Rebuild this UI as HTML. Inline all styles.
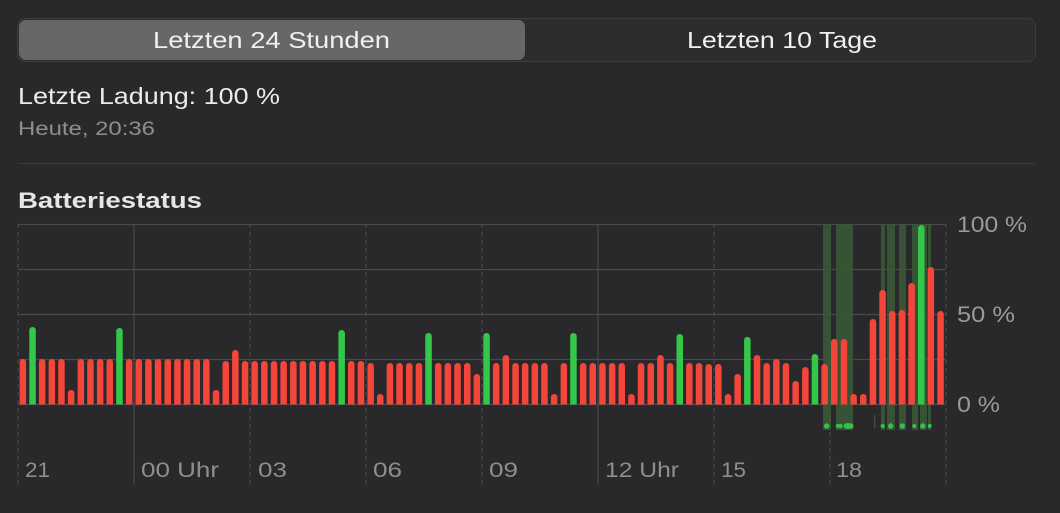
<!DOCTYPE html>
<html><head><meta charset="utf-8"><style>
body{margin:0;width:1060px;height:513px;background:#29292b;overflow:hidden;font-family:"Liberation Sans",sans-serif;}
</style></head><body>
<svg width="1060" height="513" xmlns="http://www.w3.org/2000/svg" style="position:absolute;left:0;top:0">
<rect x="17.5" y="18.5" width="1018" height="43" rx="8" fill="#2d2d2f" stroke="#3d3d40"/>
<rect x="19" y="20" width="506" height="40" rx="7" fill="#676769"/>
<text x="153" y="48" font-size="23" fill="#f0f0f0" textLength="237" lengthAdjust="spacingAndGlyphs">Letzten 24 Stunden</text>
<text x="687" y="48" font-size="23" fill="#f0f0f0" textLength="190" lengthAdjust="spacingAndGlyphs">Letzten 10 Tage</text>
<text x="18" y="104" font-size="23" fill="#ececec" textLength="262" lengthAdjust="spacingAndGlyphs">Letzte Ladung: 100 %</text>
<text x="18" y="135" font-size="19" fill="#8f8f92" textLength="137" lengthAdjust="spacingAndGlyphs">Heute, 20:36</text>
<line x1="18" y1="163.5" x2="1035" y2="163.5" stroke="#3a3a3c"/>
<text x="18" y="208" font-size="22" font-weight="bold" fill="#e6e6e6" textLength="184" lengthAdjust="spacingAndGlyphs">Batteriestatus</text>
<g stroke="#4a4a4d" stroke-width="1.2">
<line x1="18" y1="224.5" x2="946" y2="224.5"/><line x1="18" y1="269.5" x2="946" y2="269.5"/>
<line x1="18" y1="314.5" x2="946" y2="314.5"/><line x1="18" y1="359.5" x2="946" y2="359.5"/>
<line x1="18" y1="404.5" x2="946" y2="404.5"/>
<line x1="134" y1="224" x2="134" y2="484"/><line x1="598" y1="224" x2="598" y2="484"/>
</g>
<g stroke="#4a4a4d" stroke-width="1.2" stroke-dasharray="4,4">
<line x1="18" y1="224" x2="18" y2="484"/><line x1="250" y1="224" x2="250" y2="484"/>
<line x1="366" y1="224" x2="366" y2="484"/><line x1="482" y1="224" x2="482" y2="484"/>
<line x1="714" y1="224" x2="714" y2="484"/><line x1="830" y1="224" x2="830" y2="484"/>
<line x1="946" y1="224" x2="946" y2="484"/>
</g>
<g fill="#3a5a36" opacity="0.85">
<rect x="823" y="224" width="8" height="206"/><rect x="836" y="224" width="17" height="206"/>
<rect x="881" y="224" width="4" height="206"/><rect x="887" y="224" width="8" height="206"/>
<rect x="899" y="224" width="7" height="206"/><rect x="912" y="224" width="6" height="206"/>
<rect x="920" y="224" width="7" height="206"/><rect x="928" y="224" width="3" height="206"/>
</g>
<line x1="874.7" y1="415" x2="874.7" y2="428" stroke="#555" stroke-width="1"/>
<g fill="#34c14a">
<circle cx="826.7" cy="426" r="2.7"/><circle cx="837.7" cy="426" r="2"/><circle cx="840.5" cy="426" r="2.2"/>
<rect x="843.5" y="423.3" width="10" height="5.4" rx="2.7"/>
<circle cx="882.7" cy="426" r="2.2"/><circle cx="890.7" cy="426" r="2.7"/><circle cx="902.3" cy="426" r="2.7"/>
<circle cx="914.3" cy="426" r="2"/><circle cx="922.7" cy="426" r="2.7"/><circle cx="929.7" cy="426" r="2"/>
</g>
<defs><clipPath id="c"><rect x="0" y="0" width="1060" height="404.5"/></clipPath></defs>
<g clip-path="url(#c)" id="bars"></g>
<g font-size="21" fill="#8e8e91">
<text x="25" y="477" textLength="25" lengthAdjust="spacingAndGlyphs">21</text>
<text x="141" y="477" textLength="78" lengthAdjust="spacingAndGlyphs">00 Uhr</text>
<text x="258" y="477" textLength="29" lengthAdjust="spacingAndGlyphs">03</text>
<text x="373" y="477" textLength="29" lengthAdjust="spacingAndGlyphs">06</text>
<text x="489" y="477" textLength="29" lengthAdjust="spacingAndGlyphs">09</text>
<text x="605" y="477" textLength="74" lengthAdjust="spacingAndGlyphs">12 Uhr</text>
<text x="721" y="477" textLength="25" lengthAdjust="spacingAndGlyphs">15</text>
<text x="836" y="477" textLength="26" lengthAdjust="spacingAndGlyphs">18</text>
</g>
<g font-size="22" fill="#9a9a9d">
<text x="957" y="232" textLength="70" lengthAdjust="spacingAndGlyphs">100 %</text>
<text x="957" y="322" textLength="58" lengthAdjust="spacingAndGlyphs">50 %</text>
<text x="957" y="412" textLength="43" lengthAdjust="spacingAndGlyphs">0 %</text>
</g>
</svg>
<script>
var t=[359,-327,359,359,359,390,359,359,359,359,-328,359,359,359,359,359,359,359,359,359,390,361,350,361,361,361,361,361,361,361,361,361,361,-330,361,361,363,394,363,363,363,363,-333,363,363,363,363,374,-333,363,355,363,363,363,363,394,363,-333,363,363,363,363,363,394,363,363,355,363,-334,363,363,364,364,394,374,-337,355,363,359,363,381,367,-354,364,339,339,394,394,319,290,311,310,283,-225,267,311];
var g=document.getElementById('bars'),s='';
for(var i=0;i<96;i++){var v=t[i],gr=v<0;v=Math.abs(v);var x=18+9.66*i+1.6;
s+='<rect xmlns="http://www.w3.org/2000/svg" x="'+x.toFixed(1)+'" y="'+v+'" width="6.5" height="'+(410-v)+'" rx="3.2" fill="'+(gr?'#34c84a':'#f4453a')+'"/>';}
g.innerHTML=s;
</script>
</body></html>
